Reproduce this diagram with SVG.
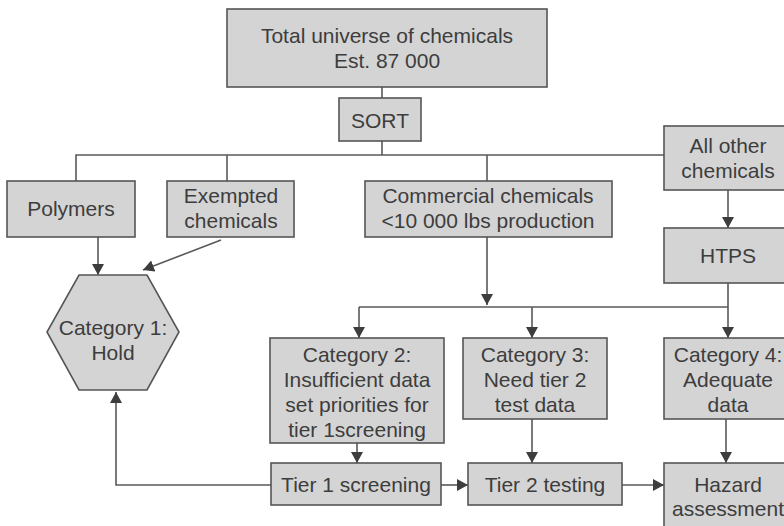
<svg xmlns="http://www.w3.org/2000/svg" width="784" height="526" viewBox="0 0 784 526">
<style>
.box{fill:#d4d4d4;stroke:#555;stroke-width:1.6}
.t{font-family:"Liberation Sans",Arial,sans-serif;font-size:21px;fill:#3d3d3d;text-anchor:middle}
.ln{fill:none;stroke:#595959;stroke-width:1.6}
.ar{marker-end:url(#ah)}
</style>
<defs>
<marker id="ah" viewBox="0 0 11 12" markerWidth="11" markerHeight="12" refX="11" refY="6" orient="auto" markerUnits="userSpaceOnUse">
<path d="M0,0 L11,6 L0,12 z" fill="#3d3d3d"/>
</marker>
</defs>
<rect width="784" height="526" fill="#fff"/>
<g id="connectors">
<line class="ln" x1="382" y1="87" x2="382" y2="98"/>
<line class="ln" x1="382" y1="141" x2="382" y2="155"/>
<polyline class="ln" points="76,181 76,155 664,155"/>
<line class="ln" x1="227" y1="155" x2="227" y2="181"/>
<line class="ln" x1="487" y1="155" x2="487" y2="181"/>
<line class="ln ar" x1="98" y1="237" x2="98" y2="275"/>
<line class="ln ar" x1="221" y1="240" x2="143" y2="270"/>
<line class="ln ar" x1="487" y1="237" x2="487" y2="305"/>
<line class="ln ar" x1="728" y1="190" x2="728" y2="228"/>
<polyline class="ln ar" points="359,307 359,338"/>
<line class="ln" x1="359" y1="307" x2="728" y2="307"/>
<line class="ln ar" x1="532" y1="307" x2="532" y2="338"/>
<line class="ln ar" x1="728" y1="283" x2="728" y2="338"/>
<line class="ln ar" x1="357" y1="443" x2="357" y2="463"/>
<line class="ln ar" x1="532" y1="419" x2="532" y2="463"/>
<line class="ln ar" x1="726" y1="419" x2="726" y2="463"/>
<line class="ln ar" x1="441" y1="485" x2="468" y2="485"/>
<line class="ln ar" x1="622" y1="485" x2="664" y2="485"/>
<polyline class="ln ar" points="271,485 116,485 116,392"/>
</g>
<g id="total">
<rect class="box" x="227" y="9" width="320" height="78"/>
<text class="t" x="387" y="43">Total universe of chemicals</text>
<text class="t" x="387" y="68">Est. 87 000</text>
</g>
<g id="sort">
<rect class="box" x="339" y="98" width="82" height="43"/>
<text class="t" x="380" y="128">SORT</text>
</g>
<g id="polymers">
<rect class="box" x="7" y="181" width="128" height="56"/>
<text class="t" x="71" y="216">Polymers</text>
</g>
<g id="exempted">
<rect class="box" x="167" y="181" width="127" height="56"/>
<text class="t" x="231" y="203">Exempted</text>
<text class="t" x="231" y="228">chemicals</text>
</g>
<g id="commercial">
<rect class="box" x="365" y="181" width="247" height="56"/>
<text class="t" x="488" y="203">Commercial chemicals</text>
<text class="t" x="488" y="228">&lt;10 000 lbs production</text>
</g>
<g id="allother">
<rect class="box" x="664" y="126" width="128" height="64"/>
<text class="t" x="728" y="153">All other</text>
<text class="t" x="728" y="178">chemicals</text>
</g>
<g id="htps">
<rect class="box" x="664" y="228" width="128" height="55"/>
<text class="t" x="728" y="263">HTPS</text>
</g>
<g id="cat1">
<polygon class="box" points="79,275 147,275 179,332 147,390 79,390 47,332"/>
<text class="t" x="113" y="335">Category 1:</text>
<text class="t" x="113" y="360">Hold</text>
</g>
<g id="cat2">
<rect class="box" x="270" y="338" width="174" height="105"/>
<text class="t" x="357" y="362">Category 2:</text>
<text class="t" x="357" y="387">Insufficient data</text>
<text class="t" x="357" y="412">set priorities for</text>
<text class="t" x="357" y="437">tier 1screening</text>
</g>
<g id="cat3">
<rect class="box" x="463" y="338" width="144" height="81"/>
<text class="t" x="535" y="362">Category 3:</text>
<text class="t" x="535" y="387">Need tier 2</text>
<text class="t" x="535" y="412">test data</text>
</g>
<g id="cat4">
<rect class="box" x="664" y="338" width="128" height="81"/>
<text class="t" x="728" y="362">Category 4:</text>
<text class="t" x="728" y="387">Adequate</text>
<text class="t" x="728" y="412">data</text>
</g>
<g id="tier1">
<rect class="box" x="271" y="463" width="170" height="42"/>
<text class="t" x="356" y="492">Tier 1 screening</text>
</g>
<g id="tier2">
<rect class="box" x="468" y="463" width="154" height="42"/>
<text class="t" x="545" y="492">Tier 2 testing</text>
</g>
<g id="hazard">
<rect class="box" x="664" y="463" width="128" height="70"/>
<text class="t" x="728" y="492">Hazard</text>
<text class="t" x="728" y="516">assessment</text>
</g>
</svg>
